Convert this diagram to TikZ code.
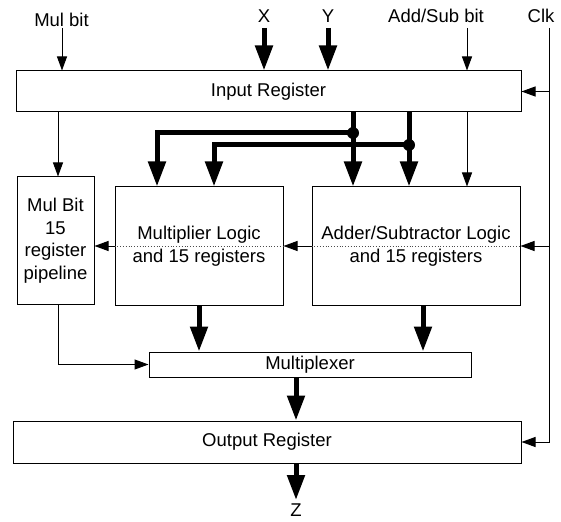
\documentclass[tikz,border=0pt]{standalone}
\usepackage{fontspec}
\setmainfont{Liberation Sans}
\usetikzlibrary{arrows.meta}
\begin{document}
\begin{tikzpicture}[x=1pt,y=-1pt,
  txt/.style={font=\fontsize{18.5}{22.5}\selectfont},
  box/.style={draw,line width=1pt,fill=white,inner sep=0pt,txt,align=center},
  tarrow/.style={line width=1pt,-{Triangle[length=14pt,width=10pt]}},
  karrow/.style={line width=5pt,-{Triangle[length=25pt,width=17pt]}},
  lbl/.style={txt,inner sep=0pt,anchor=base},
  dot/.style={circle,fill,inner sep=0pt,minimum size=12pt},
  dotline/.style={dotted,line width=0.8pt,black!70}]
\useasboundingbox (0,0) rectangle (561,521);
% boxes
\node[box,minimum width=505pt,minimum height=41pt] (inreg) at (268.5,91.5) {Input Register};
\node[box,minimum width=77pt,minimum height=127pt] (mulbit) at (55.5,240.5) {Mul Bit\\15\\register\\pipeline};
\node[box,minimum width=168pt,minimum height=118pt] (mult) at (199,246) {Multiplier Logic\\and 15 registers};
\node[box,minimum width=208pt,minimum height=118pt] (adder) at (416,246) {Adder/Subtractor Logic\\and 15 registers};
\node[box,minimum width=322pt,minimum height=25pt] (mux) at (310,364.5) {Multiplexer};
\node[box,minimum width=508pt,minimum height=42pt] (outreg) at (267,442) {Output Register};
% dotted clock lines through the logic blocks
\draw[dotline] (mult.west) -- (mult.east);
\draw[dotline] (adder.west) -- (adder.east);
% labels
\node[lbl] (lmul) at (61.5,27) {Mul bit};
\node[lbl] (lx) at (264,23) {X};
\node[lbl] (ly) at (328,23) {Y};
\node[lbl] (lads) at (436,23) {Add/Sub bit};
\node[lbl] (lclk) at (541,23) {Clk};
\node[lbl] (lz) at (296,516) {Z};
% coordinates
\coordinate (mulin) at (62,28);
\coordinate (xin) at (264,28);
\coordinate (yin) at (328,28);
\coordinate (adsin) at (467,28);
\coordinate (clktop) at (549,28);
\coordinate (clkbot) at (549,442);
\coordinate (m1) at (157,133);
\coordinate (m2) at (214,145);
\coordinate (mbx) at (58,0);
\coordinate (mb) at (58,364.5);
\coordinate (ao) at (423,364.5);
\coordinate (zx) at (296,442);
\coordinate (zend) at (296,500);
\node[dot] (d1) at (353,133) {};
\node[dot] (d2) at (409,145) {};
% inputs
\draw[tarrow] (mulin) -- (mulin |- inreg.north);
\draw[karrow] (xin) -- (xin |- inreg.north);
\draw[karrow] (yin) -- (yin |- inreg.north);
\draw[tarrow] (adsin) -- (adsin |- inreg.north);
% clock
\draw[tarrow] (clktop) -- (clkbot) -- (outreg.east);
\draw[tarrow] (inreg.east -| clktop) -- (inreg.east);
\draw[tarrow] (adder.east -| clktop) -- (adder.east);
% input register outputs
\draw[tarrow] (inreg.south -| mbx) -- (mulbit.north -| mbx);
\draw[tarrow] (inreg.south -| adsin) -- (adder.north -| adsin);
\draw[karrow] (inreg.south -| d1) -- (adder.north -| d1);
\draw[karrow] (inreg.south -| d2) -- (adder.north -| d2);
\draw[karrow] (d1.center) -- (m1) -- (mult.north -| m1);
\draw[karrow] (d2.center) -- (m2) -- (mult.north -| m2);
% between blocks
\draw[tarrow] (adder.west) -- (mult.east);
\draw[tarrow] (mult.west) -- (mult.west -| mulbit.east);
% to multiplexer
\draw[tarrow] (mulbit.south -| mb) -- (mb) -- (mux.west);
\draw[karrow] (mult.south) -- (mult.south |- mux.north);
\draw[karrow] (adder.south -| ao) -- (mux.north -| ao);
% output
\draw[karrow] (mux.south -| zx) -- (outreg.north -| zx);
\draw[karrow] (outreg.south -| zx) -- (zend);
\end{tikzpicture}
\end{document}
